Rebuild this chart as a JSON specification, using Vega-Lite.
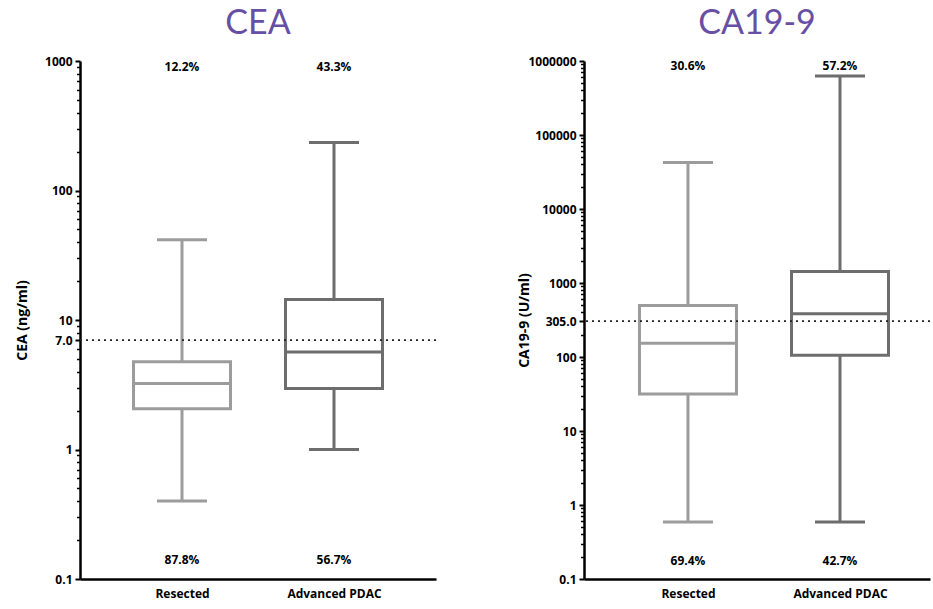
{
  "$schema": "https://vega.github.io/schema/vega-lite/v6.json",
  "background": "white",
  "padding": {"left": 15, "top": 7, "right": 0, "bottom": 4},
  "spacing": 80,
  "config": {
    "view": {"stroke": null},
    "font": "Open Sans",
    "axis": {
      "domainColor": "black", "domainWidth": 2.5, "tickColor": "black", "grid": false,
      "labelFont": "Open Sans", "labelFontWeight": "bold", "labelFontSize": 12, "labelColor": "black",
      "titleFont": "Open Sans", "titleFontSize": 14, "titleFontWeight": "bold", "titleColor": "black"
    },
    "title": {"font": "Lato", "fontSize": 34, "fontWeight": "normal", "color": "#6750a4", "offset": 14}
  },
  "datasets": {
    "cea": [
      {"group": "Resected", "lower": 0.40, "q1": 2.06, "median": 3.24, "q3": 4.76, "upper": 41.6, "above": "12.2%", "below": "87.8%"},
      {"group": "Advanced PDAC", "lower": 1.0, "q1": 2.96, "median": 5.67, "q3": 14.4, "upper": 235, "above": "43.3%", "below": "56.7%"}
    ],
    "ca": [
      {"group": "Resected", "lower": 0.59, "q1": 31.7, "median": 153, "q3": 495, "upper": 42600, "above": "30.6%", "below": "69.4%"},
      {"group": "Advanced PDAC", "lower": 0.59, "q1": 106, "median": 384, "q3": 1430, "upper": 625000, "above": "57.2%", "below": "42.7%"}
    ],
    "ceaCut": [{"cutoff": 7}],
    "caCut": [{"cutoff": 305}]
  },
  "hconcat": [
    {
      "title": "CEA",
      "width": 356,
      "height": 518,
      "data": {"name": "cea"},
      "encoding": {
        "x": {"field": "group", "type": "nominal", "sort": ["Resected", "Advanced PDAC"],
              "scale": {"type": "point", "padding": 0.671},
              "axis": {"title": null, "ticks": false, "labelPadding": 9, "labelAngle": 0}}
      },
      "resolve": {"axis": {"y": "independent"}},
      "layer": [
        {
          "mark": {"type": "rule", "strokeWidth": 3},
          "encoding": {
            "y": {"field": "lower", "type": "quantitative", "scale": {"type": "log", "domain": [0.1, 1000], "nice": false},
                  "axis": {"orient": "left", "title": "CEA (ng/ml)", "values": [0.1, 1, 7, 10, 100, 1000],
                           "labelExpr": "datum.value == 7 ? '7.0' : toString(datum.value)",
                           "tickSize": 5, "tickWidth": 2, "labelPadding": 3, "titlePadding": 15}},
            "y2": {"field": "upper"},
            "color": {"field": "group", "scale": {"domain": ["Resected", "Advanced PDAC"], "range": ["#9c9c9c", "#6d6d6d"]}, "legend": null}
          }
        },
        {
          "mark": {"type": "bar", "fill": "white", "strokeWidth": 3, "size": 97},
          "encoding": {
            "y": {"field": "q1", "type": "quantitative",
                  "axis": {"orient": "left", "title": null, "labels": false, "domain": false, "tickSize": 3.5, "tickWidth": 1.5,
                           "values": [0.2,0.3,0.4,0.5,0.6,0.7,0.8,0.9,2,3,4,5,6,8,9,20,30,40,50,60,70,80,90,200,300,400,500,600,700,800,900]}},
            "y2": {"field": "q3"},
            "stroke": {"field": "group", "scale": {"domain": ["Resected", "Advanced PDAC"], "range": ["#9c9c9c", "#6d6d6d"]}, "legend": null}
          }
        },
        {
          "mark": {"type": "tick", "size": 97, "thickness": 3, "opacity": 1},
          "encoding": {
            "y": {"field": "median", "type": "quantitative", "axis": null},
            "color": {"field": "group", "legend": null}
          }
        },
        {
          "mark": {"type": "tick", "size": 50, "thickness": 3, "opacity": 1},
          "encoding": {
            "y": {"field": "upper", "type": "quantitative", "axis": null},
            "color": {"field": "group", "legend": null}
          }
        },
        {
          "mark": {"type": "tick", "size": 50, "thickness": 3, "opacity": 1},
          "encoding": {
            "y": {"field": "lower", "type": "quantitative", "axis": null},
            "color": {"field": "group", "legend": null}
          }
        },
        {
          "data": {"name": "ceaCut"},
          "mark": {"type": "rule", "color": "#222222", "strokeWidth": 1.8, "strokeDash": [2, 4]},
          "encoding": {
            "x": null,
            "y": {"field": "cutoff", "type": "quantitative", "axis": null}
          }
        },
        {
          "mark": {"type": "text", "font": "Open Sans", "fontWeight": "bold", "fontSize": 12, "color": "black"},
          "encoding": {
            "y": {"datum": 900, "type": "quantitative", "axis": null},
            "text": {"field": "above"}
          }
        },
        {
          "mark": {"type": "text", "font": "Open Sans", "fontWeight": "bold", "fontSize": 12, "color": "black"},
          "encoding": {
            "y": {"datum": 0.139, "type": "quantitative", "axis": null},
            "text": {"field": "below"}
          }
        }
      ]
    },
    {
      "title": "CA19-9",
      "width": 346,
      "height": 518,
      "data": {"name": "ca"},
      "encoding": {
        "x": {"field": "group", "type": "nominal", "sort": ["Resected", "Advanced PDAC"],
              "scale": {"type": "point", "padding": 0.638, "align": 0.536},
              "axis": {"title": null, "ticks": false, "labelPadding": 9, "labelAngle": 0}}
      },
      "resolve": {"axis": {"y": "independent"}},
      "layer": [
        {
          "mark": {"type": "rule", "strokeWidth": 3},
          "encoding": {
            "y": {"field": "lower", "type": "quantitative", "scale": {"type": "log", "domain": [0.1, 1000000], "nice": false},
                  "axis": {"orient": "left", "title": "CA19-9 (U/ml)", "values": [0.1, 1, 10, 100, 305, 1000, 10000, 100000, 1000000],
                           "labelExpr": "datum.value == 305 ? '305.0' : toString(datum.value)",
                           "tickSize": 5, "tickWidth": 2, "labelPadding": 3, "titlePadding": -4}},
            "y2": {"field": "upper"},
            "color": {"field": "group", "scale": {"domain": ["Resected", "Advanced PDAC"], "range": ["#9c9c9c", "#6d6d6d"]}, "legend": null}
          }
        },
        {
          "mark": {"type": "bar", "fill": "white", "strokeWidth": 3, "size": 97},
          "encoding": {
            "y": {"field": "q1", "type": "quantitative",
                  "axis": {"orient": "left", "title": null, "labels": false, "domain": false, "tickSize": 3.5, "tickWidth": 1.5,
                           "values": [0.2,0.3,0.4,0.5,0.6,0.7,0.8,0.9,2,3,4,5,6,7,8,9,20,30,40,50,60,70,80,90,200,400,500,600,700,800,900,2000,3000,4000,5000,6000,7000,8000,9000,20000,30000,40000,50000,60000,70000,80000,90000,200000,300000,400000,500000,600000,700000,800000,900000]}},
            "y2": {"field": "q3"},
            "stroke": {"field": "group", "scale": {"domain": ["Resected", "Advanced PDAC"], "range": ["#9c9c9c", "#6d6d6d"]}, "legend": null}
          }
        },
        {
          "mark": {"type": "tick", "size": 97, "thickness": 3, "opacity": 1},
          "encoding": {
            "y": {"field": "median", "type": "quantitative", "axis": null},
            "color": {"field": "group", "legend": null}
          }
        },
        {
          "mark": {"type": "tick", "size": 50, "thickness": 3, "opacity": 1},
          "encoding": {
            "y": {"field": "upper", "type": "quantitative", "axis": null},
            "color": {"field": "group", "legend": null}
          }
        },
        {
          "mark": {"type": "tick", "size": 50, "thickness": 3, "opacity": 1},
          "encoding": {
            "y": {"field": "lower", "type": "quantitative", "axis": null},
            "color": {"field": "group", "legend": null}
          }
        },
        {
          "data": {"name": "caCut"},
          "mark": {"type": "rule", "color": "#222222", "strokeWidth": 1.8, "strokeDash": [2, 4]},
          "encoding": {
            "x": null,
            "y": {"field": "cutoff", "type": "quantitative", "axis": null}
          }
        },
        {
          "mark": {"type": "text", "font": "Open Sans", "fontWeight": "bold", "fontSize": 12, "color": "black"},
          "encoding": {
            "y": {"datum": 850000, "type": "quantitative", "axis": null},
            "text": {"field": "above"}
          }
        },
        {
          "mark": {"type": "text", "font": "Open Sans", "fontWeight": "bold", "fontSize": 12, "color": "black"},
          "encoding": {
            "y": {"datum": 0.177, "type": "quantitative", "axis": null},
            "text": {"field": "below"}
          }
        }
      ]
    }
  ]
}
